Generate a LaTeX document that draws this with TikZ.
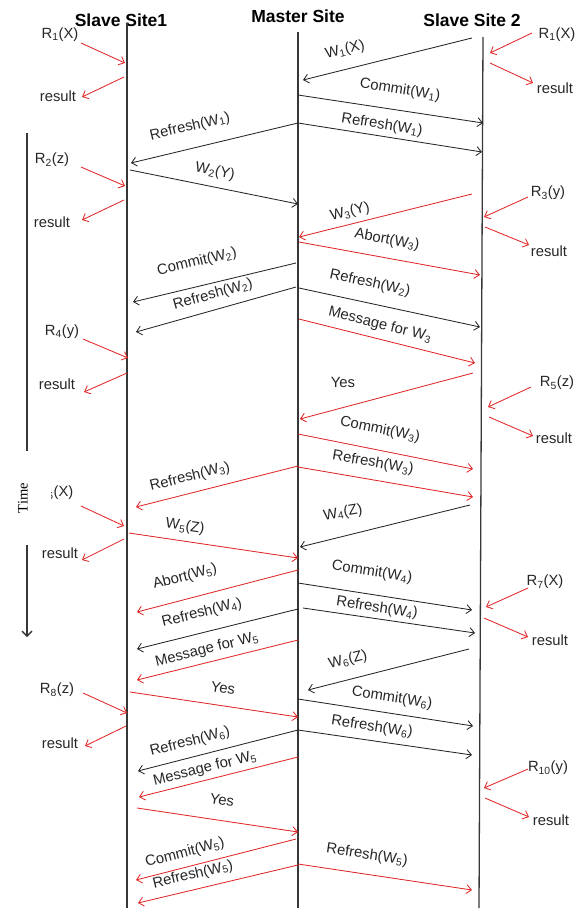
\documentclass[tikz,border=0pt]{standalone}
\usepackage{fontspec}
\setmainfont{Liberation Sans}
\newfontfamily\timesf{Liberation Serif}
\usetikzlibrary{arrows.meta}
\definecolor{myred}{RGB}{225,40,40}
\definecolor{lifec}{RGB}{55,55,55}
\newcommand\lo[1]{\textsubscript{#1}}
\newcommand\msg[7]{\coordinate (#1a) at (#2); \coordinate (#1b) at (#3);
  \draw[#4] (#1a) -- (#1b);
  \node[lbl,rotate=#6] (#1l) at (#5) {#7};}
\newcommand\cli[5]{\node[lbl] (#1l) at (#2) {#3};
  \coordinate (#1a) at (#4); \coordinate (#1b) at (#5);
  \draw[rd] (#1a) -- (#1b);}
\begin{document}
\begin{tikzpicture}[x=1pt,y=-1pt,
  arr/.style={-{Straight Barb[length=5pt,width=9pt]}, line width=0.85pt},
  blk/.style={arr, draw=black!85},
  rd/.style={arr, draw=myred},
  lbl/.style={font=\fontsize{14.8}{17}\selectfont, inner sep=0pt, text=black!85},
  hdr/.style={font=\fontsize{17.5}{20}\selectfont\bfseries, inner sep=0pt},
  life/.style={draw=lifec, line width=1.3pt}]
\useasboundingbox (0,0) rectangle (584,910);
% headers
\node[hdr,anchor=base] (h1) at (121,26) {Slave Site1};
\node[hdr,anchor=base] (h2) at (298,23) {Master Site};
\node[hdr,anchor=base] (h3) at (472,27) {Slave Site 2};
% lifelines
\coordinate (s1t) at (127,23); \coordinate (s1b) at (127,908);
\coordinate (mt) at (298,32); \coordinate (mb) at (298,908);
\coordinate (s2t) at (483,37); \coordinate (s2b) at (479,908);
\draw[life] (s1t) -- (s1b);
\draw[life] (mt) -- (mb);
\draw[life] (s2t) -- (s2b);
% time axis
\coordinate (ta) at (27,133); \coordinate (td) at (27,637);
\draw[line width=1.3pt, draw=lifec, -{Straight Barb[length=5pt,width=10pt]}] (ta) -- (td);
% messages
\msg{m1}{472,38}{303,80}{blk}{345,50}{14}{W\lo{1}(X)}
\msg{m2}{298,95}{483,123}{blk}{400,90}{-8.6}{Commit(W\lo{1})}
\msg{m3}{298,123}{482,152}{blk}{382,125}{-9}{Refresh(W\lo{1})}
\msg{m4}{298,123}{131,163}{blk}{190,127}{13.5}{Refresh(W\lo{1})}
\msg{m5}{130,170}{298,204}{blk}{215,172}{-11.4}{W\lo{2}(Y)}
\msg{m6}{472,194}{299,237}{rd}{350,212}{14}{W\lo{3}(Y)}
\msg{m7}{299,242}{480,275}{rd}{387,240}{-10.3}{Abort(W\lo{3})}
\msg{m8}{296,263}{133,302}{blk}{197,262}{13.5}{Commit(W\lo{2})}
\msg{m9}{299,288}{480,327}{blk}{370,283}{-12}{Refresh(W\lo{2})}
\msg{m10}{296,287}{136,332}{blk}{213,295}{15.7}{Refresh(W\lo{2})}
\msg{m11}{299,319}{475,363}{rd}{380,325}{-14}{Message for W\lo{3}}
\msg{m12}{473,373}{300,419}{rd}{343,382}{0}{Yes}
\msg{m13}{298,434}{473,469}{rd}{380,430}{-11.3}{Commit(W\lo{3})}
\msg{m14}{298,467}{473,497}{rd}{373,463}{-9.7}{Refresh(W\lo{3})}
\msg{m15}{298,466}{136,507}{rd}{190,477}{14}{Refresh(W\lo{3})}
\msg{m16}{470,505}{300,547}{blk}{343,513}{10}{W\lo{4}(Z)}
\msg{m17}{129,533}{298,558}{rd}{185,527}{-8.4}{W\lo{5}(Z)}
\msg{m18}{298,570}{137,612}{rd}{185,577}{14.6}{Abort(W\lo{5})}
\msg{m19}{298,583}{472,610}{blk}{372,572}{-8.8}{Commit(W\lo{4})}
\msg{m20}{303,608}{475,633}{blk}{377,608}{-8.3}{Refresh(W\lo{4})}
\msg{m21}{298,609}{137,649}{blk}{202,613}{14}{Refresh(W\lo{4})}
\msg{m22}{298,640}{137,680}{rd}{207,650}{14}{Message for W\lo{5}}
\msg{m23}{469,649}{308,690}{blk}{348,660}{14}{W\lo{6}(Z)}
\msg{m24}{130,692}{298,717}{rd}{223,688}{-8.5}{Yes}
\msg{m25}{298,699}{473,726}{blk}{392,698}{-8.8}{Commit(W\lo{6})}
\msg{m26}{298,730}{472,755}{blk}{372,727}{-8.2}{Refresh(W\lo{6})}
\msg{m27}{298,730}{138,771}{blk}{190,742}{14.4}{Refresh(W\lo{6})}
\msg{m28}{298,757}{139,797}{rd}{205,769}{14}{Message for W\lo{5}}
\msg{m29}{137,808}{298,832}{rd}{222,800}{-8.5}{Yes}
\msg{m30}{296,839}{136,880}{rd}{185,853}{14.4}{Commit(W\lo{5})}
\msg{m31}{298,865}{138,903}{rd}{193,875}{13.4}{Refresh(W\lo{5})}
\msg{m32}{298,864}{472,890}{rd}{367,855}{-8.5}{Refresh(W\lo{5})}
% client requests, slave site 1
\cli{a1}{60,35}{R\lo{1}(X)}{81,43}{125,63}
\cli{a2}{58,96}{result}{124,77}{82,97}
\cli{a3}{52,160}{R\lo{2}(z)}{81,167}{125,186}
\cli{a4}{52,222}{result}{124,200}{82,220}
\cli{a5}{62,332}{R\lo{4}(y)}{83,339}{128,358}
\cli{a6}{57,384}{result}{127,373}{84,392}
\cli{a7}{55,493}{R\lo{6}(X)}{81,506}{124,526}
\cli{a8}{60,553}{result}{124,539}{82,560}
\cli{a9}{57,690}{R\lo{8}(z)}{83,693}{127,713}
\cli{a10}{60,743}{result}{126,726}{85,746}
% client requests, slave site 2
\cli{b1}{557,35}{R\lo{1}(X)}{532,33}{490,53}
\cli{b2}{555,88}{result}{490,63}{533,83}
\cli{b3}{548,193}{R\lo{3}(y)}{528,197}{484,217}
\cli{b4}{549,251}{result}{485,227}{529,245}
\cli{b5}{557,383}{R\lo{5}(z)}{531,387}{488,407}
\cli{b6}{554,438}{result}{489,417}{533,436}
\cli{b7}{545,582}{R\lo{7}(X)}{528,588}{486,607}
\cli{b8}{550,640}{result}{484,618}{528,637}
\cli{b9}{548,768}{R\lo{10}(y)}{528,769}{484,788}
\cli{b10}{551,820}{result}{485,798}{529,817}
% time label (covers part of the axis and of a label)
\node[rotate=90, fill=white, inner sep=0pt, minimum width=94pt, minimum height=56pt,
      font=\timesf\fontsize{14.5}{16}\selectfont] (time) at (23,498) {Time};
\end{tikzpicture}
\end{document}
